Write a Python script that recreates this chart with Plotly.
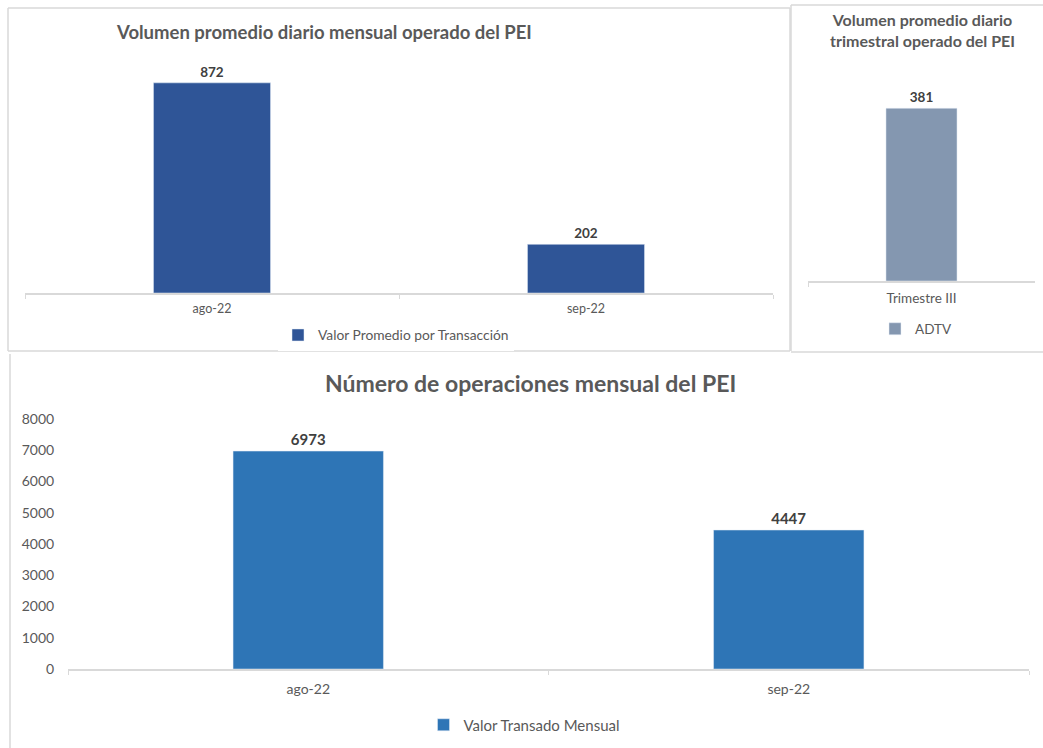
import plotly.graph_objects as go

# Data
meses = ["ago-22", "sep-22"]
volumen_mensual = [872, 202]          # Valor Promedio por Transacción
trimestre = ["Trimestre III"]
volumen_trimestral = [381]            # ADTV
operaciones_mensual = [6973, 4447]    # Valor Transado Mensual

W, H = 1043, 748
FONT = "Lato, 'Liberation Sans', sans-serif"
GREY = "#595959"
LINE = "#D9D9D9"


def px_x(x):
    return x / W


def px_y(y):
    return 1 - y / H


fig = go.Figure()

fig.add_trace(go.Bar(
    x=meses, y=volumen_mensual, name="Valor Promedio por Transacción",
    marker_color="#2F5597", texttemplate="<b>%{y}</b>", textposition="outside",
    textfont=dict(size=13.5, color="#404040"), cliponaxis=False,
    xaxis="x", yaxis="y", legend="legend",
))
fig.add_trace(go.Bar(
    x=trimestre, y=volumen_trimestral, name="ADTV",
    marker_color="#8497B0", texttemplate="<b>%{y}</b>", textposition="outside",
    textfont=dict(size=13.5, color="#404040"), cliponaxis=False,
    xaxis="x2", yaxis="y2", legend="legend2",
))
fig.add_trace(go.Bar(
    x=meses, y=operaciones_mensual, name="Valor Transado Mensual",
    marker_color="#2E75B6", texttemplate="<b>%{y}</b>", textposition="outside",
    textfont=dict(size=15, color="#404040"), cliponaxis=False,
    xaxis="x3", yaxis="y3", legend="legend3",
))

cat_axis = dict(
    showline=True, linecolor=LINE, linewidth=1.5, showgrid=False,
    ticks="outside", tickson="boundaries", ticklen=4, tickcolor=LINE,
    automargin=False, fixedrange=True,
)

fig.update_layout(
    width=W, height=H,
    margin=dict(l=0, r=0, t=0, b=0, autoexpand=False),
    paper_bgcolor="white", plot_bgcolor="white",
    font=dict(family=FONT, color=GREY),
    bargap=0.687,
    xaxis=dict(domain=[px_x(25), px_x(773)], anchor="y", ticklabelstandoff=3,
               tickfont=dict(size=12.5, color=GREY), **cat_axis),
    yaxis=dict(domain=[px_y(293), px_y(52)], anchor="x", range=[0, 1000],
               visible=False),
    xaxis2=dict(domain=[px_x(808), px_x(1035)], anchor="y2", ticklabelstandoff=4,
                tickfont=dict(size=13.5, color=GREY), **cat_axis),
    yaxis2=dict(domain=[px_y(281), px_y(77)], anchor="x2", range=[0, 450],
                visible=False),
    xaxis3=dict(domain=[px_x(68), px_x(1029)], anchor="y3", ticklabelstandoff=6,
                tickfont=dict(size=14, color=GREY), **cat_axis),
    yaxis3=dict(domain=[px_y(669), px_y(419)], anchor="x3", range=[0, 8000],
                dtick=1000, showgrid=False, showline=False, zeroline=False,
                automargin=False, ticks="outside", ticklen=10,
                tickcolor="rgba(0,0,0,0)", fixedrange=True,
                tickfont=dict(size=14, color=GREY)),
    legend=dict(x=px_x(396), y=px_y(335), xanchor="center", yanchor="middle",
                orientation="h", font=dict(size=13.8, color=GREY), itemwidth=30),
    legend2=dict(x=px_x(916), y=px_y(329), xanchor="center", yanchor="middle",
                 orientation="h", font=dict(size=13.5, color=GREY), itemwidth=30),
    legend3=dict(x=px_x(524), y=px_y(725), xanchor="center", yanchor="middle",
                 orientation="h", font=dict(size=15, color=GREY), itemwidth=30),
    showlegend=True,
)

titles = [
    (324, 32, "<b>Volumen promedio diario mensual operado del PEI</b>", 18.5),
    (922, 30, "<b>Volumen promedio diario<br>trimestral operado del PEI</b>", 16),
    (530, 383, "<b>Número de operaciones mensual del PEI</b>", 23),
]
for x, y, text, size in titles:
    fig.add_annotation(x=px_x(x), y=px_y(y), xref="paper", yref="paper",
                       text=text, showarrow=False, xanchor="center",
                       yanchor="middle", font=dict(size=size, color=GREY))

# Panel borders
borders = [
    (8, 8, 790, 8), (8, 8, 8, 351), (790, 8, 790, 351), (8, 351, 790, 351),
    (791, 5, 1043, 5), (791, 5, 791, 351), (791, 352, 1043, 352),
    (10, 354, 10, 748),
]
for x0, y0, x1, y1 in borders:
    fig.add_shape(type="line", xref="paper", yref="paper",
                  x0=px_x(x0), y0=px_y(y0), x1=px_x(x1), y1=px_y(y1),
                  line=dict(color=LINE, width=1.5))

# the page body has a default 8px margin; drop it so the figure fills the window
fig.write_html("out.html", config={"displayModeBar": False},
               post_script="document.body.style.margin='0';")
